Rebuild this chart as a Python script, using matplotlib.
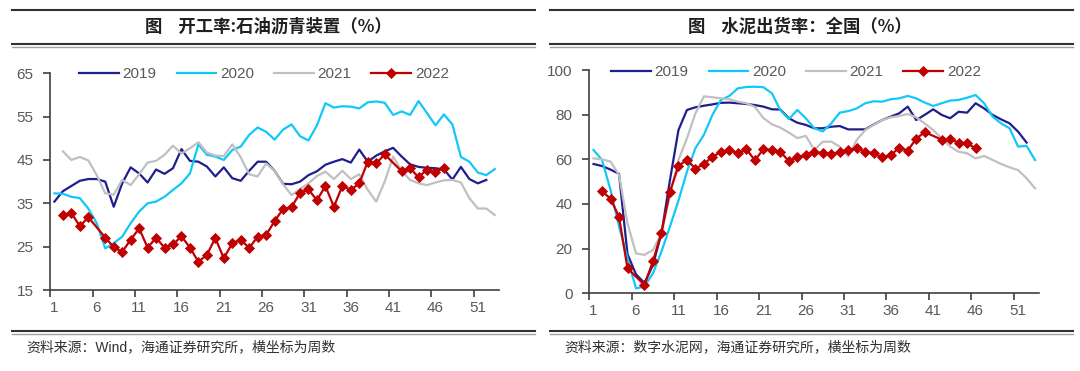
import numpy as np
import matplotlib
matplotlib.use("Agg")
from matplotlib import pyplot as plt
from matplotlib.lines import Line2D

plt.rcParams['font.family'] = ['Liberation Sans', 'Noto Sans CJK SC', 'DejaVu Sans']

# ---- left panel: asphalt plant utilisation (%) ----
asph_weeks_2019 = list(range(1, 53))
asph_2019 = [35.4, 37.8, 39.0, 40.2, 40.6, 40.6, 40.0, 34.2, 39.6, 43.3,
             41.9, 39.8, 42.8, 41.8, 43.1, 47.5, 44.8, 44.6, 43.5, 41.2,
             43.3, 40.8, 40.2, 42.5, 44.6, 44.6, 42.5, 39.5, 39.4, 40.0,
             41.5, 42.4, 43.9, 44.6, 45.2, 44.4, 47.4, 44.6, 46.0, 47.0,
             47.8, 45.8, 44.0, 43.4, 43.2, 43.1, 42.8, 40.5, 43.4, 40.6,
             39.6, 40.4]
asph_weeks_2020 = list(range(1, 54))
asph_2020 = [37.3, 37.2, 36.5, 36.2, 33.8, 30.4, 24.6, 25.8, 27.3, 30.4,
             33.1, 35.0, 35.4, 36.5, 38.1, 39.6, 41.9, 48.6, 46.2, 45.8,
             45.0, 47.3, 48.1, 50.8, 52.5, 51.5, 49.7, 52.0, 53.2, 50.5,
             49.5, 53.0, 58.1, 57.1, 57.4, 57.3, 56.9, 58.3, 58.5, 58.2,
             55.4, 56.2, 55.4, 58.6, 55.8, 53.0, 55.5, 53.2, 45.7, 44.6,
             42.1, 41.5, 42.9]
asph_weeks_2021 = list(range(2, 54))
asph_2021 = [47.0, 45.0, 45.7, 44.9, 41.5, 37.3, 37.0, 40.4, 39.2, 41.7,
             44.4, 44.8, 46.2, 48.3, 46.5, 47.7, 49.1, 46.7, 46.0, 45.9,
             48.6, 45.6, 41.7, 41.2, 44.2, 42.5, 39.4, 36.9, 38.3, 39.6,
             41.3, 42.3, 40.6, 42.5, 40.6, 41.7, 38.1, 35.4, 40.0, 45.8,
             42.5, 40.4, 39.6, 39.2, 39.8, 40.3, 40.4, 39.8, 36.2, 33.8,
             33.8, 32.3]
asph_weeks_2022 = [2, 3, 4, 5, 7, 8, 9, 10, 11, 12, 13, 14, 15, 16, 17, 18,
                   19, 20, 21, 22, 23, 24, 25, 26, 27, 28, 29, 30, 31, 32,
                   33, 34, 35, 36, 37, 38, 39, 40, 42, 43, 44, 45, 46, 47]
asph_2022 = [32.3, 32.8, 29.7, 31.8, 27.1, 24.9, 23.8, 26.6, 29.2, 24.8,
             27.0, 24.8, 25.5, 27.4, 24.8, 21.5, 23.1, 27.0, 22.3, 25.8,
             26.6, 24.7, 27.3, 27.7, 30.9, 33.7, 34.1, 37.4, 38.2, 35.7,
             39.0, 34.2, 39.0, 38.1, 39.6, 44.6, 44.2, 46.3, 42.4, 43.1,
             41.0, 42.8, 42.3, 43.1]

# ---- right panel: cement shipment rate, national (%) ----
cem_weeks_2019 = list(range(1, 53))
cem_2019 = [57.9, 57.0, 55.4, 53.5, 17.5, 8.5, 4.6, 12.7, 26.9, 50.7,
            73.1, 82.1, 83.3, 84.0, 84.6, 85.3, 85.4, 85.1, 84.8, 84.3,
            83.6, 82.4, 82.3, 78.4, 76.4, 75.4, 73.9, 73.9, 74.6, 74.9,
            73.4, 73.4, 73.4, 75.6, 77.6, 79.1, 80.6, 83.6, 77.6, 79.9,
            82.4, 79.9, 78.4, 81.3, 80.9, 85.1, 82.8, 79.9, 77.9, 76.1,
            72.4, 67.5]
cem_weeks_2020 = list(range(1, 54))
cem_2020 = [64.2, 59.7, 46.3, 29.9, 15.7, 2.2, 3.0, 9.0, 18.7, 29.9,
            41.5, 54.5, 65.0, 71.0, 79.9, 86.6, 88.4, 91.8, 92.4, 92.5,
            92.3, 89.6, 82.0, 78.0, 82.1, 78.4, 73.9, 72.5, 76.1, 80.9,
            81.6, 82.8, 85.1, 86.0, 85.8, 86.9, 87.3, 88.4, 87.3, 85.4,
            83.9, 85.1, 86.3, 86.6, 87.6, 88.8, 85.1, 79.1, 76.1, 73.9,
            65.7, 66.0, 59.7]
cem_weeks_2021 = list(range(1, 54))
cem_2021 = [60.4, 60.0, 59.0, 53.0, 31.3, 17.9, 17.2, 19.4, 26.9, 44.0,
            59.7, 69.4, 80.6, 88.2, 87.8, 87.3, 86.9, 85.8, 85.1, 83.5,
            78.5, 75.7, 74.2, 72.0, 69.5, 70.5, 64.2, 67.9, 67.9, 65.7,
            61.2, 68.7, 73.1, 75.4, 77.6, 78.8, 79.4, 80.3, 78.8, 76.1,
            73.1, 69.4, 65.7, 63.4, 62.7, 60.4, 61.5, 59.7, 57.9, 56.4,
            55.2, 51.5, 47.0]
cem_weeks_2022 = [2, 3, 4, 5, 7, 8, 9, 10, 11, 12, 13, 14, 15, 16, 17, 18,
                  19, 20, 21, 22, 23, 24, 25, 26, 27, 28, 29, 30, 31, 32,
                  33, 34, 35, 36, 37, 38, 39, 40, 42, 43, 44, 45, 46]
cem_2022 = [45.7, 42.4, 34.2, 11.2, 3.7, 14.4, 27.2, 45.5, 57.0, 59.8,
            55.8, 57.9, 61.2, 63.2, 64.2, 62.7, 64.5, 59.6, 64.5, 64.2,
            63.4, 59.2, 61.0, 62.0, 63.4, 62.7, 62.2, 63.4, 64.2, 64.9,
            63.4, 62.7, 60.9, 61.9, 65.2, 63.9, 69.2, 72.2, 68.8, 69.1,
            67.4, 67.2, 64.9]

x_labels = [str(w) for w in range(1, 52, 5)]

c19 = '#1f1f8c'
c20 = '#12c8f8'
c21 = '#c0c0c0'
c22 = '#c00000'
axis_col = '#404040'
txt_col = '#595959'


def style_axis(ax, ylim, yticks):
    ax.set_xlim(0.5, 53.5)
    ax.set_ylim(*ylim)
    ax.set_yticks(yticks)
    ax.set_xticks(range(1, 52, 5))
    ax.set_xticklabels(x_labels)
    ax.set_xticks(np.arange(0.5, 51, 5), minor=True)
    ax.tick_params(axis='x', which='major', length=0, pad=8, labelsize=11, labelcolor=txt_col)
    ax.tick_params(axis='x', which='minor', length=5, width=1.2, color=axis_col, direction='out')
    ax.tick_params(axis='y', length=5, width=1.2, color=axis_col, pad=7, labelsize=11, labelcolor=txt_col)
    for s in ['top', 'right']:
        ax.spines[s].set_visible(False)
    for s in ['left', 'bottom']:
        ax.spines[s].set_color(axis_col)
        ax.spines[s].set_linewidth(1.2)


def draw_series(ax, w19, y19, w20, y20, w21, y21, w22, y22):
    ax.plot(w19, y19, color=c19, lw=1.6, label='2019')
    ax.plot(w20, y20, color=c20, lw=1.6, label='2020')
    ax.plot(w21, y21, color=c21, lw=1.6, label='2021')
    ax.plot(w22, y22, color=c22, lw=1.6, marker='D', markersize=5.6,
            markeredgewidth=0.6, label='2022')


fig = plt.figure(figsize=(10.8, 3.71), dpi=100)
W, H = 1080.0, 371.0

ax1 = fig.add_axes([50.2 / W, 1 - 290 / H, (499 - 50.2) / W, (290 - 73.3) / H])
draw_series(ax1, asph_weeks_2019, asph_2019, asph_weeks_2020, asph_2020,
            asph_weeks_2021, asph_2021, asph_weeks_2022, asph_2022)
style_axis(ax1, (15, 65), range(15, 66, 10))

ax2 = fig.add_axes([589.3 / W, 1 - 293.3 / H, 450 / W, (293.3 - 70) / H])
draw_series(ax2, cem_weeks_2019, cem_2019, cem_weeks_2020, cem_2020,
            cem_weeks_2021, cem_2021, cem_weeks_2022, cem_2022)
style_axis(ax2, (0, 100), range(0, 101, 20))

for ax, cx, cy in [(ax1, 264, 74), (ax2, 796, 72)]:
    ax.legend(loc='center', bbox_to_anchor=(cx / W, 1 - cy / H),
              bbox_transform=fig.transFigure, ncol=4, frameon=False,
              fontsize=11, handlelength=2.6, handletextpad=0.25,
              columnspacing=1.3, labelcolor=txt_col, borderaxespad=0)

# title boxes and source lines
for x0, x1, tcx, title, src in [
        (12, 535, 268, '图    开工率:石油沥青装置（%）', '资料来源：Wind，海通证券研究所，横坐标为周数'),
        (550, 1073, 800, '图    水泥出货率：全国（%）', '资料来源：数字水泥网，海通证券研究所，横坐标为周数')]:
    fx = [x0 / W, x1 / W]
    fig.add_artist(Line2D(fx, [1 - 10 / H] * 2, color='#303030', lw=1.5))
    fig.add_artist(Line2D(fx, [1 - 44 / H] * 2, color='#303030', lw=1.5))
    fig.add_artist(Line2D(fx, [1 - 46.5 / H] * 2, color='#a0a0a0', lw=1.0))
    fig.add_artist(Line2D(fx, [1 - 331 / H] * 2, color='#303030', lw=1.5))
    fig.add_artist(Line2D(fx, [1 - 333.5 / H] * 2, color='#a0a0a0', lw=1.0))
    fig.text(tcx / W, 1 - 27 / H, title, ha='center', va='center', fontsize=12.5,
             fontweight='bold', color='#202020', family=['Noto Sans CJK SC', 'DejaVu Sans'])
    fig.text((x0 + 14) / W, 1 - 347 / H, src, ha='left', va='center', fontsize=10,
             color='#303030')

fig.savefig('out.png', dpi=100)
